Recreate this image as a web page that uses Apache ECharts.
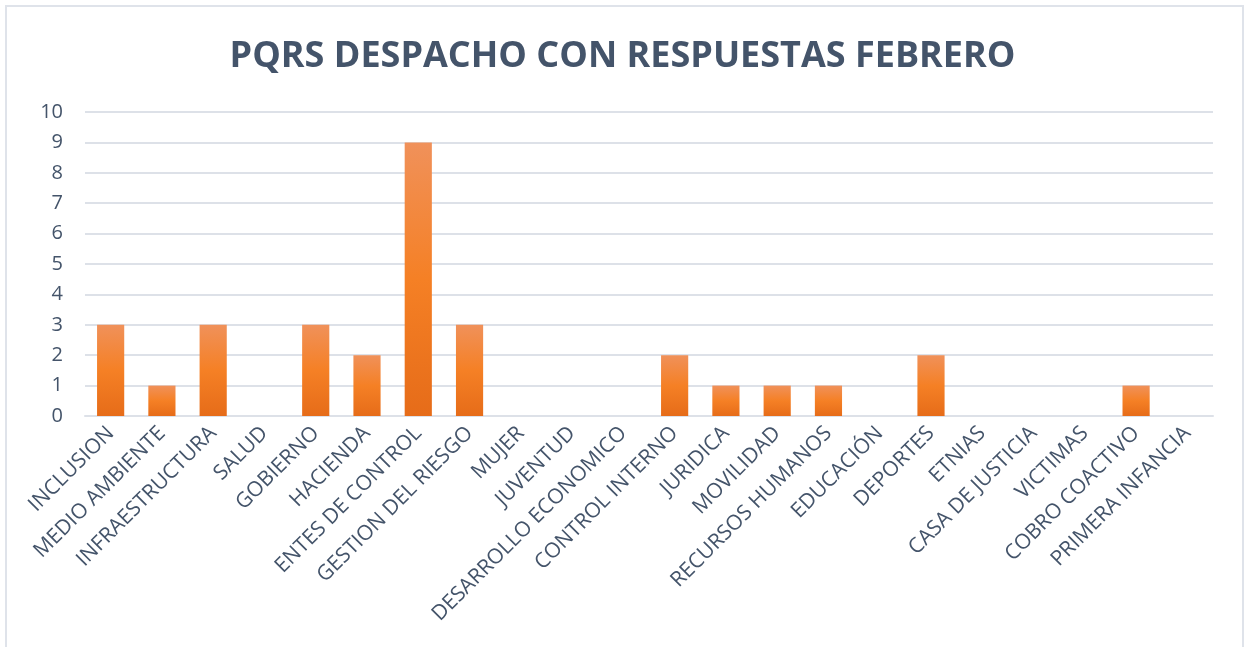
<!DOCTYPE html>
<html>
<head>
<meta charset="utf-8">
<script src="https://cdn.jsdelivr.net/npm/echarts@6/dist/echarts.min.js"></script>
<style>
  html, body { margin: 0; padding: 0; background: #fff; }
  #frame { position: absolute; left: 5px; top: 5px; width: 1235px; height: 660px; border: 2px solid #dfe3ea; }
  #bar { position: absolute; left: 0; top: 0; width: 1245px; height: 647px; }
</style>
</head>
<body>
<div id="frame"></div>
<div id="bar"></div>
<script>
// categorias y valores
var categorias = ['INCLUSION', 'MEDIO AMBIENTE', 'INFRAESTRUCTURA', 'SALUD', 'GOBIERNO', 'HACIENDA',
  'ENTES DE CONTROL', 'GESTION DEL RIESGO', 'MUJER', 'JUVENTUD', 'DESARROLLO ECONOMICO',
  'CONTROL INTERNO', 'JURIDICA', 'MOVILIDAD', 'RECURSOS HUMANOS', 'EDUCACIÓN', 'DEPORTES',
  'ETNIAS', 'CASA DE JUSTICIA', 'VICTIMAS', 'COBRO COACTIVO', 'PRIMERA INFANCIA'];
var respuestas = [3, 1, 3, 0, 3, 2, 9, 3, 0, 0, 0, 2, 1, 1, 1, 0, 2, 0, 0, 0, 1, 0];

var myBarChart = echarts.init(document.getElementById('bar'));
var option = {
  animation: false,
  title: {
    text: 'PQRS DESPACHO CON RESPUESTAS FEBRERO',
    left: 'center',
    top: 34,
    textStyle: {
      fontFamily: 'Open Sans',
      fontWeight: 'bold',
      fontSize: 36,
      color: '#44546a'
    }
  },
  grid: {
    left: 85,
    right: 32,
    top: 112,
    bottom: 231,
    containLabel: false
  },
  xAxis: {
    type: 'category',
    data: categorias,
    axisLine: { lineStyle: { color: '#dde1e8', width: 2 } },
    axisTick: { show: false },
    axisLabel: {
      interval: 0,
      rotate: 45,
      margin: 14,
      fontFamily: 'Open Sans',
      fontSize: 21,
      color: '#44546a'
    }
  },
  yAxis: {
    type: 'value',
    min: 0,
    max: 10,
    interval: 1,
    axisLine: { show: false },
    axisTick: { show: false },
    axisLabel: {
      margin: 22,
      fontFamily: 'Open Sans',
      fontSize: 20,
      color: '#44546a'
    },
    splitLine: { lineStyle: { color: '#dde1e8', width: 2 } }
  },
  series: [
    {
      name: 'Respuestas',
      type: 'bar',
      data: respuestas,
      barWidth: '53%',
      itemStyle: {
        color: new echarts.graphic.LinearGradient(0, 0, 0, 1, [
          { offset: 0, color: '#f0915a' },
          { offset: 0.5, color: '#f58025' },
          { offset: 1, color: '#e66c19' }
        ])
      }
    }
  ]
};
myBarChart.setOption(option);
</script>
</body>
</html>
